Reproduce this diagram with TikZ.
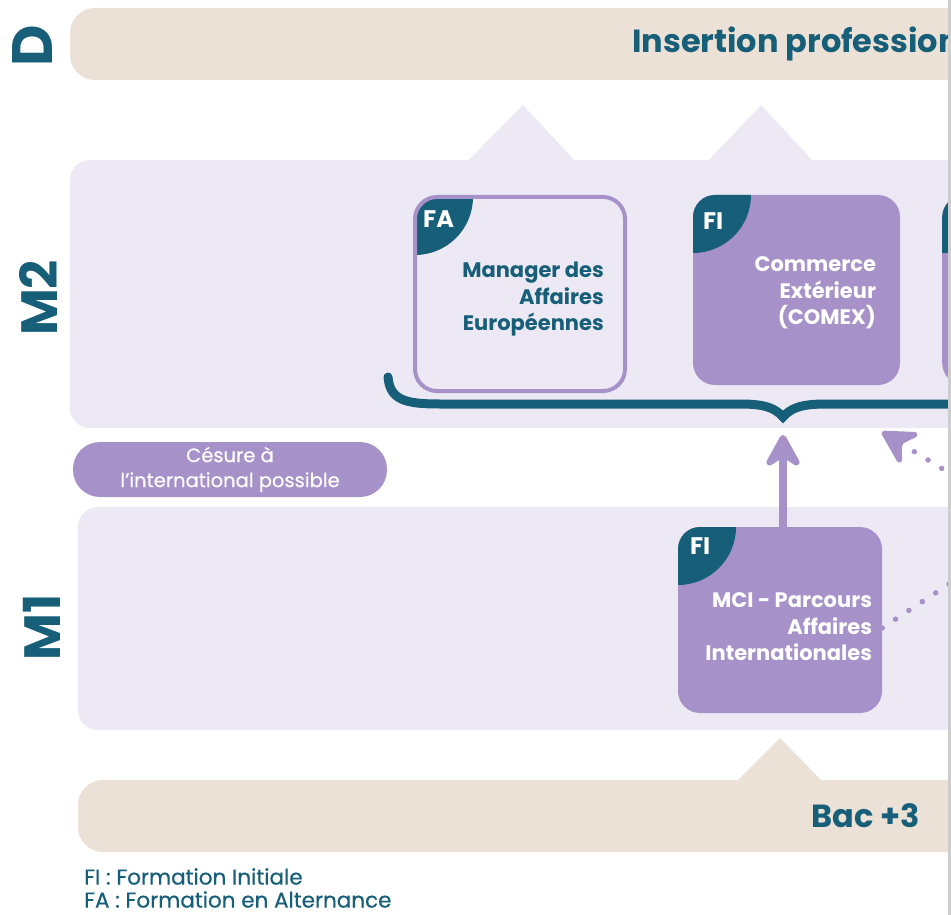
\documentclass[tikz,border=0pt]{standalone}
\usepackage{fontspec}
\setmainfont{Poppins}
\newfontfamily\mediumfont[FakeBold=0.5]{Poppins}
\usetikzlibrary{arrows.meta,positioning}

\definecolor{inkteal}{RGB}{23,94,120}
\definecolor{sand}{RGB}{235,225,214}
\definecolor{lilac}{RGB}{236,233,244}
\definecolor{mauve}{RGB}{166,146,200}
\definecolor{edgegray}{RGB}{205,205,205}

\tikzset{
  band/.style={fill=sand, rounded corners=25pt},
  panel/.style={fill=lilac, rounded corners=20pt},
  course/.style={rectangle, fill=mauve, rounded corners=22pt,
    path picture={\fill[inkteal] (path picture bounding box.north west) circle (58pt);}},
  coursetext/.style={font=\bfseries\fontsize{21}{26.5}\selectfont, align=right, inner sep=0pt, anchor=north east},
  tabtext/.style={font=\bfseries\fontsize{24}{24}\selectfont, text=white, inner sep=0pt, anchor=base west},
  yearlabel/.style={rotate=90, font=\bfseries\fontsize{51}{51}\selectfont, text=inkteal, inner sep=0pt},
  bandtext/.style={font=\bfseries\fontsize{32}{32}\selectfont, text=inkteal, inner sep=0pt},
  pill/.style={fill=mauve, rounded corners=27pt, minimum width=314pt, minimum height=55pt,
    text=white, align=center, inner sep=0pt, font=\mediumfont\fontsize{19.5}{25}\selectfont},
  legend/.style={text=inkteal, align=left, inner sep=0pt, font=\mediumfont\fontsize{21.5}{23}\selectfont},
  flow/.style={draw=mauve, line width=8pt},
  dotline/.style={draw=mauve, line width=5.5pt, line cap=round, dash pattern=on 0pt off 16pt},
  >={Stealth[length=40pt,width=44pt,inset=14pt,round]}
}

\begin{document}
\begin{tikzpicture}[x=1pt, y=-1pt]
  \useasboundingbox (0,0) rectangle (951,915);
  \clip (0,0) rectangle (951,915);

  % bands and panels
  \fill[band] (70,8) rectangle (1000,80);
  \fill[lilac] (468,161) -- (523,105) -- (575,161) -- cycle;
  \fill[lilac] (708,161) -- (761,105) -- (813,161) -- cycle;
  \fill[panel] (70,160) rectangle (1000,428);
  \fill[panel] (78,507) rectangle (1000,730);
  \fill[sand] (737,781) -- (780,738) -- (822,781) -- cycle;
  \fill[band] (78,780) rectangle (1000,852);

  \node[bandtext, anchor=base west] (insertion) at (632,53) {Insertion professionnelle};
  \node[bandtext, anchor=base east] (bac) at (920,827) {Bac +3};

  \node[yearlabel, font=\bfseries\fontsize{57}{57}\selectfont] (doct) at (32,46) {D};
  \node[yearlabel] (mtwo) at (38,298) {M2};
  \node[yearlabel] (mone) at (42,627) {M1};

  % M2 courses
  \node[course, fill=lilac, draw=mauve, line width=4pt, minimum width=210pt, minimum height=194pt] (manager) at (520,294) {};
  \node[tabtext] at ([xshift=10pt,yshift=-32pt]manager.north west) {FA};
  \node[coursetext, text=inkteal] at ([xshift=-23pt,yshift=-67pt]manager.north east) {Manager des\\Affaires\\Européennes};

  \node[course, minimum width=207pt, minimum height=190pt] (comex) at (796.5,290) {};
  \node[tabtext] at ([xshift=10pt,yshift=-35pt]comex.north west) {FI};
  \node[coursetext, text=white] at ([xshift=-24pt,yshift=-62pt]comex.north east) {Commerce\\Extérieur\\(COMEX)};

  \node[course, anchor=north west, minimum width=207pt, minimum height=190pt] (third) at (942,195) {};

  % brace under M2 courses
  \coordinate (tip) at (783,417);
  \draw[inkteal, line width=9pt, line cap=round] (388,377) .. controls (390,400) and (405,404) .. (440,404)
    -- (740,404) .. controls (765,404) and (775,408) .. (tip)
    .. controls (791,408) and (801,404) .. (826,404) -- (1000,404);

  \node[pill] (cesure) at (230,469.5) {Césure à\\l’international possible};

  % M1 course
  \node[course, minimum width=204pt, minimum height=186pt] (mci) at (780,620) {};
  \node[tabtext] at ([xshift=12pt,yshift=-28pt]mci.north west) {FI};
  \node[coursetext, text=white] at ([xshift=-10pt,yshift=-66pt]mci.north east) {MCI - Parcours\\Affaires\\Internationales};

  % links
  \coordinate (goal) at (783,435);
  \coordinate (sidegoal) at (882,432);
  \coordinate (farright) at (1010,510);
  \coordinate (offright) at (1010,544);
  \draw[flow, ->] (mci.north -| goal) -- (goal);
  \draw[dotline, ->] (farright) -- (sidegoal);
  \draw[dotline] ([yshift=-8pt]mci.east) -- (offright);

  \node[legend, anchor=north west] (key) at (84,868) {FI : Formation Initiale\\FA : Formation en Alternance};

  \fill[edgegray] (948,0) rectangle (951,915);
\end{tikzpicture}
\end{document}
